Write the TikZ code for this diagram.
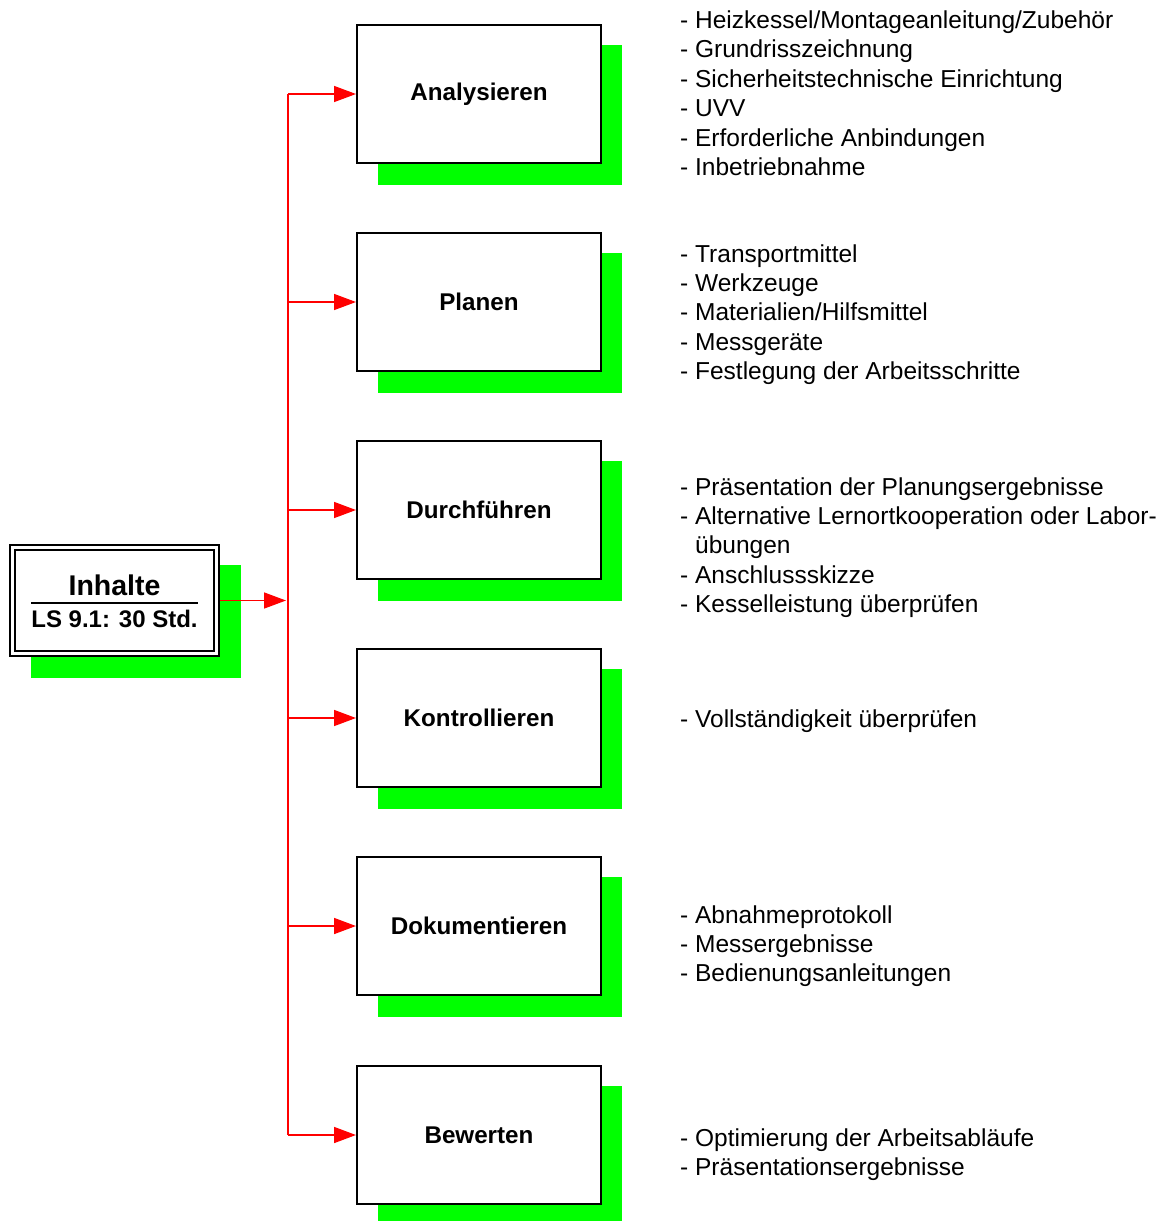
\documentclass[tikz,border=0pt]{standalone}
\usepackage{fontspec}
\setmainfont{Liberation Sans}
\usetikzlibrary{arrows.meta}
\definecolor{shadowgreen}{HTML}{00FF00}
\definecolor{linkred}{HTML}{FF0000}
\begin{document}
\begin{tikzpicture}[x=1pt,y=-1pt,
  stepbox/.style={draw=black,line width=2pt,fill=white,minimum width=244pt,
    minimum height=138pt,inner sep=0pt,
    font=\fontsize{24.2}{29}\selectfont\bfseries},
  shadowfill/.style={fill=shadowgreen},
  % anchored at the baseline of the last line
  itemlist/.style={anchor=base west,align=left,inner sep=0pt,
    font=\fontsize{24.5}{29.4}\selectfont},
  link/.style={draw=linkred,line width=1.5pt},
  linkarrow/.style={link,-{Triangle[length=22pt,width=16pt]}}]
\useasboundingbox (0,0) rectangle (1161,1221);

% head box with shadow and double frame
\fill[shadowfill] (31,565) rectangle (241,678);
\node[draw=black,line width=2pt,fill=white,minimum width=209pt,minimum height=111pt,
  inner sep=0pt] (head) at (114.5,600.5) {};
\node[draw=black,line width=2pt,minimum width=199pt,minimum height=101pt,
  inner sep=0pt] (headin) at (114.5,600.5) {};
\node[anchor=base,inner sep=0pt,font=\fontsize{28.5}{30}\selectfont\bfseries]
  (headtitle) at (114.5,595) {Inhalte};
\node[anchor=base,inner sep=0pt,font=\fontsize{24}{29}\selectfont\bfseries]
  (headsub) at (114.5,627) {LS 9.1: 30 Std.};
\draw[line width=1.5pt] (31,603) -- (198,603);

% process steps
\foreach \name/\label/\yc in {ana/Analysieren/94, pla/Planen/302,
    dur/Durchführen/510, kon/Kontrollieren/718, dok/Dokumentieren/926,
    bew/Bewerten/1135}{
  \fill[shadowfill] (378,\yc-49) rectangle (622,\yc+91);
  \node[stepbox] (\name) at (479,\yc) {\label};
}

% distribution lines
\coordinate (split) at (286,600.5);
\coordinate (top) at (288,94);
\coordinate (bottom) at (288,1135);
\draw[linkarrow] (head.east) -- (split);
\draw[link] (top) -- (bottom);
\foreach \name in {ana,pla,dur,kon,dok,bew}{
  \draw[linkarrow] (288,0 |- \name.west) -- (\name.west);
}

% item lists
\node[itemlist] (anatext) at (680,175.5) {- Heizkessel/Montageanleitung/Zubehör\\
  - Grundrisszeichnung\\ - Sicherheitstechnische Einrichtung\\ - UVV\\
  - Erforderliche Anbindungen\\ - Inbetriebnahme};
\node[itemlist] (platext) at (680,379.6) {- Transportmittel\\ - Werkzeuge\\
  - Materialien/Hilfsmittel\\ - Messgeräte\\ - Festlegung der Arbeitsschritte};
\node[itemlist] (durtext) at (680,612.6) {- Präsentation der Planungsergebnisse\\
  - Alternative Lernortkooperation oder Labor-\\ \hphantom{- }übungen\\
  - Anschlussskizze\\ - Kesselleistung überprüfen};
\node[itemlist] (kontext) at (680,727) {- Vollständigkeit überprüfen};
\node[itemlist] (doktext) at (680,981.8) {- Abnahmeprotokoll\\ - Messergebnisse\\
  - Bedienungsanleitungen};
\node[itemlist] (bewtext) at (680,1175.4) {- Optimierung der Arbeitsabläufe\\
  - Präsentationsergebnisse};
\end{tikzpicture}
\end{document}
